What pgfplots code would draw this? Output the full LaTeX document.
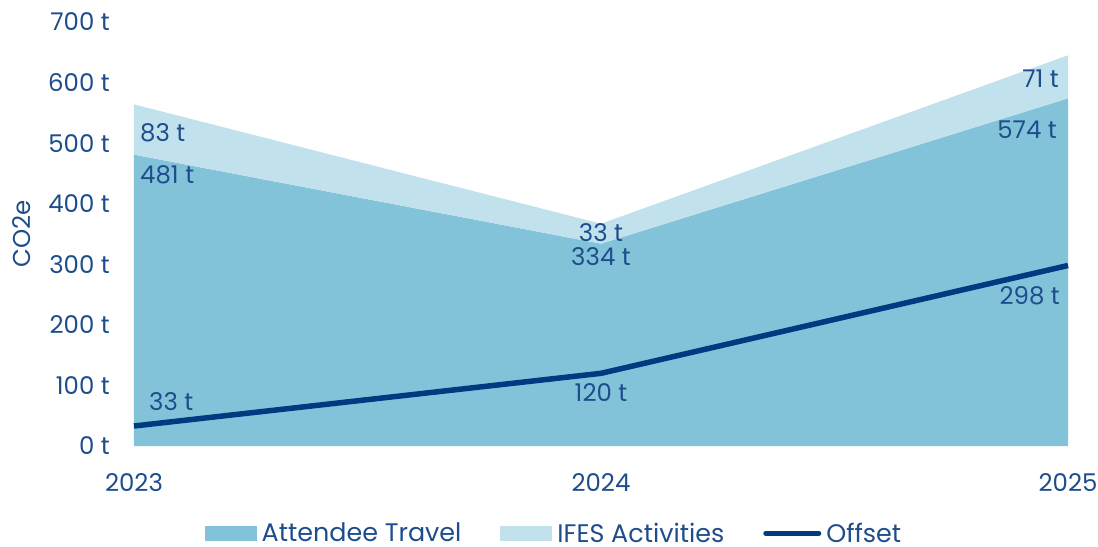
\documentclass[border=0pt]{standalone}
\usepackage{pgfplots}
\pgfplotsset{compat=1.18}
\usepackage{fontspec}
\setmainfont{Poppins}
\definecolor{travel}{HTML}{83C3DA}
\definecolor{ifes}{HTML}{C1E1EC}
\definecolor{offset}{HTML}{003A80}
\definecolor{txt}{HTML}{1E4D8C}
\newcommand\fs{\fontsize{24.5}{28}\selectfont}
\newcommand\fl{\fontsize{25.5}{28}\selectfont}
\begin{document}
\begin{tikzpicture}
\begin{axis}[
  scale only axis,
  width=934bp, height=424bp,
  xmin=0, xmax=2, ymin=0, ymax=700,
  axis line style={draw=none},
  tick style={draw=none},
  xtick={0,1,2},
  xticklabels={2023,2024,2025},
  ytick={0,100,...,700},
  yticklabels={0 t,100 t,200 t,300 t,400 t,500 t,600 t,700 t},
  every tick label/.append style={font=\fs, text=txt, inner sep=0pt},
  y tick label style={anchor=east, xshift=-24bp},
  x tick label style={anchor=center, yshift=-37bp},
  ylabel={CO2e},
  every axis y label/.style={font=\fs, text=txt, at={(axis description cs:-0.1199,0.5)}, rotate=90, anchor=center, inner sep=0pt},
  legend columns=3,
  legend style={draw=none, fill=none, at={(axis description cs:0.4486,-0.206)}, anchor=center,
    font=\fl, text=txt, inner sep=0pt,
    nodes={inner sep=0pt},
    /tikz/every odd column/.append style={column sep=5bp},
    /tikz/every even column/.append style={column sep=39bp}},
  clip=false,
]
\addplot[draw=none, fill=travel, stack plots=y, area legend,
  legend image code/.code={\fill[travel] (0bp,-7.5bp) rectangle (52bp,7.5bp);}]
  coordinates {(0,481) (1,334) (2,574)} \closedcycle;
\addlegendentry{Attendee Travel}
\addplot[draw=none, fill=ifes, stack plots=y, area legend,
  legend image code/.code={\fill[ifes] (0bp,-7.5bp) rectangle (52bp,7.5bp);}]
  coordinates {(0,83) (1,33) (2,71)} \closedcycle;
\addlegendentry{IFES Activities}
\addplot[stack plots=false, offset, line width=5.5bp,
  legend image code/.code={\draw[offset, line width=5bp, line cap=round] (2.5bp,0bp) -- (55.5bp,0bp);}]
  coordinates {(0,33) (1,120) (2,298)};
\addlegendentry{Offset}
\tikzset{lbl/.style={font=\fs, text=txt, inner sep=0pt}}
\node[lbl, anchor=west, xshift=6bp] at (axis cs:0,517) {83 t};
\node[lbl, anchor=west, xshift=6bp] at (axis cs:0,447) {481 t};
\node[lbl, anchor=west, xshift=15bp] at (axis cs:0,74) {33 t};
\node[lbl] at (axis cs:1,353) {33 t};
\node[lbl] at (axis cs:1,312) {334 t};
\node[lbl] at (axis cs:1,87.5) {120 t};
\node[lbl, anchor=east, xshift=-9bp] at (axis cs:2,606) {71 t};
\node[lbl, anchor=east, xshift=-11bp] at (axis cs:2,522) {574 t};
\node[lbl, anchor=east, xshift=-8bp] at (axis cs:2,248) {298 t};
\end{axis}
\pgfresetboundingbox
\path (-134bp,-101bp) rectangle (964bp,446bp);
\end{tikzpicture}
\end{document}
